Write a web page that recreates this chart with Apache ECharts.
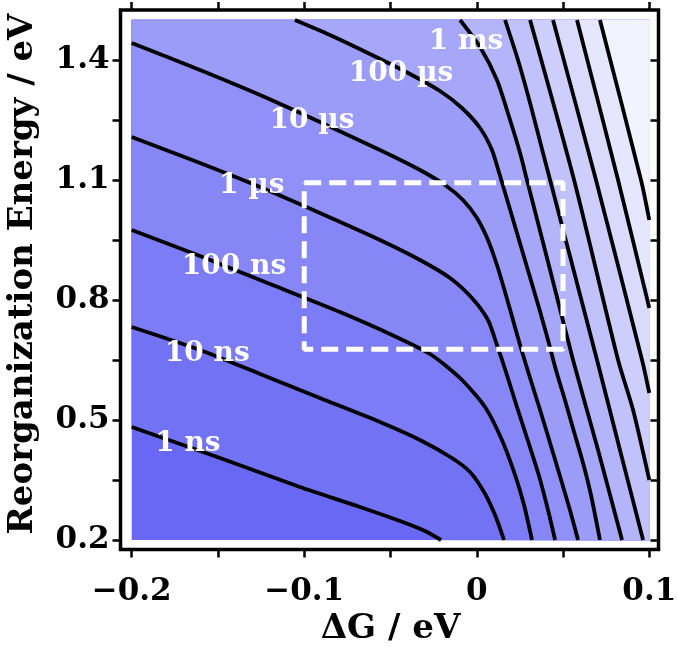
<!DOCTYPE html>
<html><head><meta charset="utf-8">
<script src="https://cdn.jsdelivr.net/npm/echarts@6/dist/echarts.min.js"></script>
<style>html,body{margin:0;padding:0;background:#fff}#c{width:677px;height:654px}</style>
</head><body><div id="c"></div>
<script>
// ---- axis ticks ----
const xTickValues = [-0.2, -0.15, -0.1, -0.05, 0, 0.05, 0.1];
const xLabelValues = [-0.2, -0.1, 0, 0.1];
const xTickLabels = ['\u22120.2', '\u22120.1', '0', '0.1'];
const yTickValues = [0.2, 0.35, 0.5, 0.65, 0.8, 0.95, 1.1, 1.25, 1.4];
const yLabelValues = [0.2, 0.5, 0.8, 1.1, 1.4];
const yTickLabels = ['0.2', '0.5', '0.8', '1.1', '1.4'];
const xRange = [-0.2, 0.1];
const yRange = [0.2, 1.5];

// ---- contour lines [ΔG (eV), λ (eV)] ----
const c1ns = [[-0.2,0.4825],[-0.1488,0.405],[-0.1025,0.3325],[-0.0677,0.2825],[-0.0445,0.2475],[-0.0300,0.2225],[-0.0207,0.2]];
const c10ns = [[-0.2,0.7325],[-0.1604,0.675],[-0.1256,0.615],[-0.0909,0.555],[-0.0561,0.495],[-0.0329,0.45],[-0.0144,0.405],[-0.0039,0.37],[0.0042,0.32],[0.0106,0.2625],[0.0158,0.2]];
const c100ns = [[-0.2,0.975],[-0.1604,0.91],[-0.1198,0.84],[-0.0793,0.77],[-0.0503,0.715],[-0.0271,0.665],[-0.0097,0.605],[0.0048,0.5325],[0.0146,0.45],[0.0222,0.3625],[0.0274,0.2875],[0.0320,0.2]];
const c1us = [[-0.2,1.2075],[-0.1604,1.1425],[-0.1256,1.0825],[-0.0909,1.0175],[-0.0561,0.95],[-0.0329,0.90],[-0.0155,0.855],[-0.0028,0.805],[0.0065,0.75],[0.0117,0.6875],[0.0175,0.6125],[0.0233,0.5325],[0.0297,0.4475],[0.0361,0.36],[0.0413,0.275],[0.0454,0.2]];
const c10us = [[-0.2,1.4425],[-0.1604,1.375],[-0.1256,1.3125],[-0.0909,1.245],[-0.0561,1.175],[-0.0329,1.125],[-0.0184,1.0875],[-0.0080,1.05],[0.0001,1.005],[0.0065,0.95],[0.0117,0.8875],[0.0164,0.82],[0.0210,0.75],[0.0256,0.68],[0.0309,0.605],[0.0367,0.525],[0.0425,0.4425],[0.0482,0.36],[0.0540,0.275],[0.0587,0.2]];
const c100us = [[-0.1054,1.5],[-0.0851,1.4625],[-0.0619,1.415],[-0.0387,1.365],[-0.0213,1.3225],[-0.0086,1.28],[0.0019,1.23],[0.0088,1.175],[0.0135,1.11],[0.0187,1.035],[0.0245,0.95],[0.0303,0.865],[0.0361,0.78],[0.0413,0.70],[0.0459,0.625],[0.0511,0.55],[0.0564,0.47],[0.0616,0.3925],[0.0662,0.3125],[0.0714,0.2]];
const c1ms = [[-0.0097,1.5],[0.0019,1.4325],[0.0117,1.35],[0.0193,1.25],[0.0251,1.1675],[0.0291,1.10],[0.0425,0.875],[0.0558,0.65],[0.0703,0.425],[0.0842,0.2]];
const c10ms = [[0.0164,1.5],[0.0239,1.40],[0.0309,1.2925],[0.0384,1.1675],[0.0425,1.10],[0.0697,0.65],[0.0830,0.425],[0.0964,0.2]];
const c100ms = [[0.0309,1.5],[0.0564,1.10],[0.0819,0.65],[0.0906,0.525],[0.1,0.35]];
const c1s = [[0.0442,1.5],[0.0691,1.10],[0.0958,0.65],[0.1,0.5675]];
const c10s = [[0.0581,1.5],[0.0819,1.10],[0.1,0.78]];
const c100s = [[0.0714,1.5],[0.0952,1.10],[0.1,1.0]];

// ---- contour labels ----
const labelText = ['1 ns', '10 ns', '100 ns', '1 \u00b5s', '10 \u00b5s', '100 \u00b5s', '1 ms'];
const labelX = [-0.1674, -0.1562, -0.1407, -0.1304, -0.0955, -0.0439, -0.0062];
const labelY = [0.44, 0.665, 0.8825, 1.085, 1.2475, 1.365, 1.445];

// ---- dashed box ----
const boxX = [-0.1, 0.05, 0.05, -0.1, -0.1];
const boxY = [1.093, 1.093, 0.677, 0.677, 1.093];

// ---- styles ----
const bandColors = ['#6868F4','#7272F5','#7C7CF6','#8686F7','#9090F8','#9B9BF8','#A7A7F9','#B4B4FA','#C1C1FB','#CECEFC','#DADAFD','#E6E6FE','#F3F3FF'];
const FONT = "'DejaVu Serif', serif";

const contours = [c1ns, c10ns, c100ns, c1us, c10us, c100us, c1ms, c10ms, c100ms, c1s, c10s, c100s];

function regionPoly(line) {
  const pts = line.slice();
  const start = line[0], end = line[line.length - 1];
  if (Math.abs(end[1] - yRange[0]) < 1e-9) pts.push([xRange[1], yRange[0]]);
  pts.push([xRange[1], yRange[1]]);
  if (Math.abs(start[0] - xRange[0]) < 1e-9) pts.push([xRange[0], yRange[1]]);
  return pts;
}
function nearestLabel(v, vals, labels) {
  for (let i = 0; i < vals.length; i++) if (Math.abs(v - vals[i]) < 1e-6) return labels[i];
  return '';
}

const chart = echarts.init(document.getElementById('c'), null, {renderer: 'canvas'});
const tickStyle = {show: true, inside: false, length: 8, lineStyle: {color: '#000', width: 2.5}};
const tickStyleFlip = {show: true, inside: true, length: 8, lineStyle: {color: '#000', width: 2.5}};
const noLine = {show: false, onZero: false};
const series = [];
series.push({
  type: 'custom', coordinateSystem: 'cartesian2d', xAxisIndex: 0, yAxisIndex: 0,
  silent: true, z: 1, animation: false,
  data: contours.map((c, i) => [xRange[0], yRange[0], i]),
  renderItem: function (params, api) {
    const i = api.value(2);
    const pts = regionPoly(contours[i]).map(p => api.coord(p));
    return {type: 'polygon', z2: i, shape: {points: pts, smooth: 0}, style: {fill: bandColors[i + 1], stroke: bandColors[i + 1], lineWidth: 0.5}};
  }
});
contours.forEach(c => series.push({
  type: 'line', data: c, xAxisIndex: 0, yAxisIndex: 0, showSymbol: false, symbol: 'none',
  smooth: 0.25, clip: false, silent: true, z: 2, animation: false,
  lineStyle: {color: '#000', width: 3.8, cap: 'butt', join: 'round'}
}));
series.push({
  type: 'line', data: boxX.map((x, i) => [x, boxY[i]]), xAxisIndex: 0, yAxisIndex: 0,
  showSymbol: false, symbol: 'none', silent: true, z: 3, animation: false, clip: false,
  lineStyle: {color: '#fff', width: 5, type: [17, 8]}
});
series.push({
  type: 'custom', coordinateSystem: 'cartesian2d', xAxisIndex: 0, yAxisIndex: 0,
  silent: true, z: 4, animation: false,
  data: labelX.map((x, i) => [x, labelY[i], i]),
  renderItem: function (params, api) {
    const p = api.coord([api.value(0), api.value(1)]);
    return {type: 'text', x: p[0], y: p[1], style: {text: labelText[api.value(2)], fill: '#ffffff',
      fontFamily: FONT, fontWeight: 'bold', fontSize: 28, align: 'center', verticalAlign: 'middle'}};
  }
});

chart.setOption({
  animation: false,
  textStyle: {fontFamily: FONT},
  grid: [
    {left: 131.7, right: 27.7, top: 20, bottom: 114, show: true, backgroundColor: bandColors[0], borderWidth: 0, containLabel: false, outerBoundsMode: 'none'},
    {left: 120.5, right: 18.5, top: 10, bottom: 104.5, show: true, backgroundColor: 'transparent', borderColor: '#000', borderWidth: 3.5, containLabel: false, outerBoundsMode: 'none'}
  ],
  xAxis: [
    {type: 'value', gridIndex: 0, position: 'bottom', min: xRange[0], max: xRange[1], offset: 9.5,
      axisLine: noLine, splitLine: {show: false},
      axisTick: Object.assign({customValues: xTickValues}, tickStyle),
      axisLabel: {customValues: xLabelValues, margin: 27, color: '#000', fontFamily: FONT, fontWeight: 'bold', fontSize: 31,
        formatter: v => nearestLabel(v, xLabelValues, xTickLabels)},
      name: '\u0394G / eV', nameLocation: 'middle', nameGap: 63,
      nameTextStyle: {color: '#000', fontFamily: FONT, fontWeight: 'bold', fontSize: 34}},
    {type: 'value', gridIndex: 0, position: 'top', min: xRange[0], max: xRange[1], offset: 10,
      axisLine: noLine, splitLine: {show: false},
      axisTick: Object.assign({customValues: xTickValues}, tickStyle),
      axisLabel: {show: false}},
    {type: 'value', gridIndex: 1, show: false, min: 0, max: 1, axisLine: noLine}
  ],
  yAxis: [
    {type: 'value', gridIndex: 0, position: 'left', min: yRange[0], max: yRange[1], offset: 11.2,
      axisLine: noLine, splitLine: {show: false},
      axisTick: Object.assign({customValues: yTickValues}, tickStyle),
      axisLabel: {customValues: yLabelValues, margin: 11, color: '#000', fontFamily: FONT, fontWeight: 'bold', fontSize: 31,
        formatter: v => nearestLabel(v, yLabelValues, yTickLabels)},
      name: 'Reorganization Energy / eV', nameLocation: 'middle', nameGap: 80,
      nameTextStyle: {color: '#000', fontFamily: FONT, fontWeight: 'bold', fontSize: 34, padding: [0, 0, 0, 12]}},
    {type: 'value', gridIndex: 0, position: 'right', min: yRange[0], max: yRange[1], offset: 9.2,
      axisLine: noLine, splitLine: {show: false},
      axisTick: Object.assign({customValues: yTickValues}, tickStyleFlip),
      axisLabel: {show: false}},
    {type: 'value', gridIndex: 1, show: false, min: 0, max: 1, axisLine: noLine}
  ],
  series: series
});
</script></body></html>
